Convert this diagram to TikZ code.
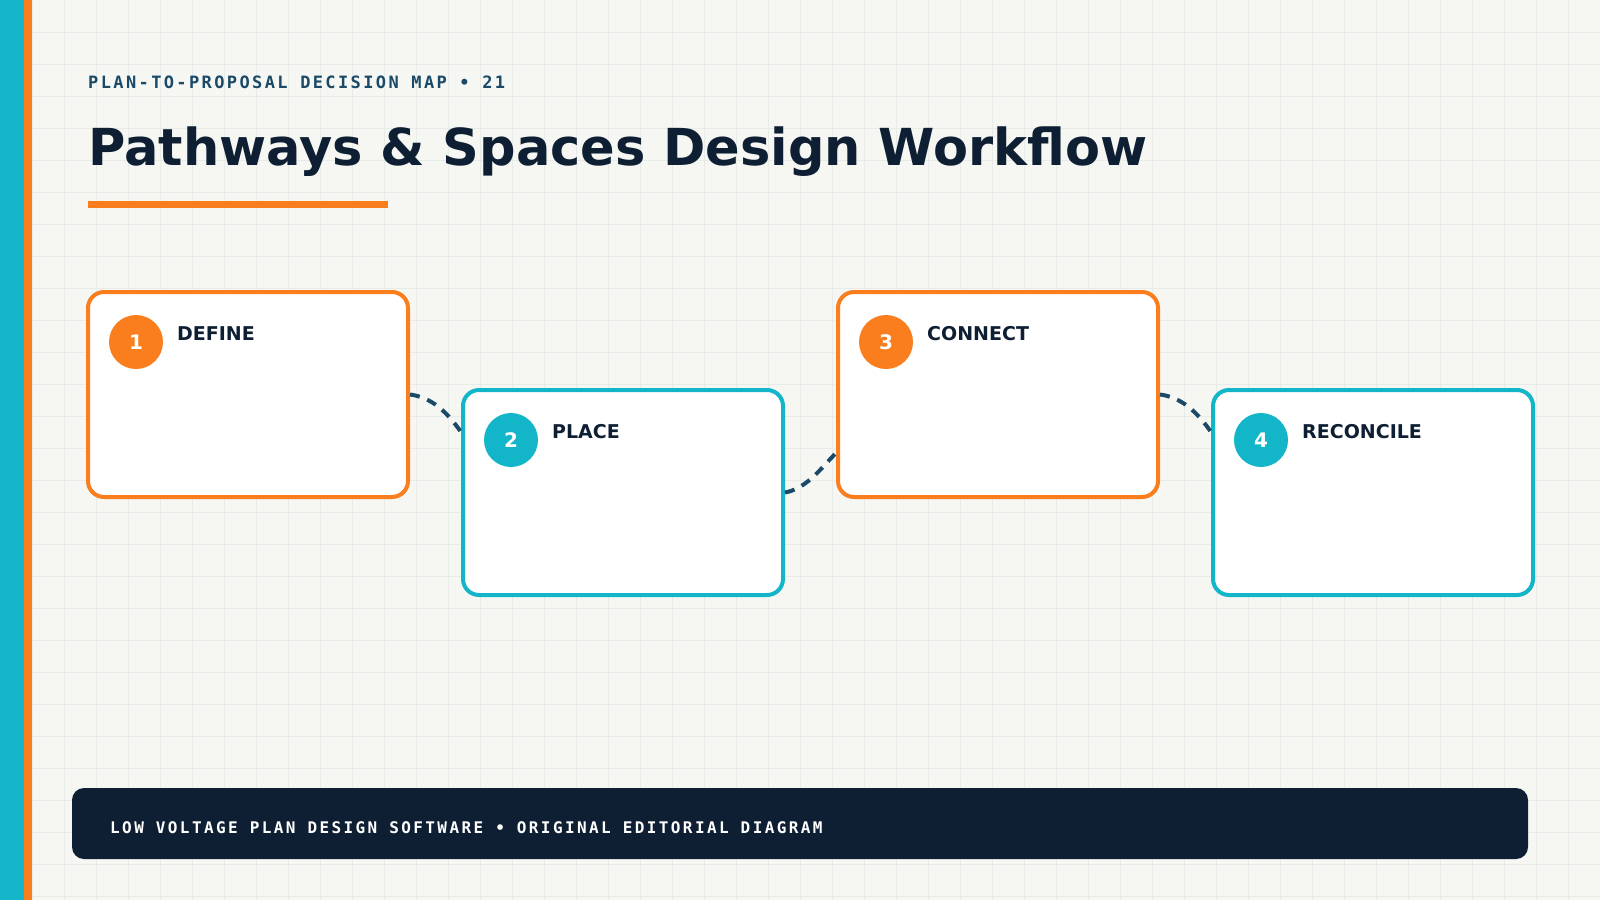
\documentclass[tikz,border=0pt]{standalone}
\usepackage{fontspec}
\setmainfont{DejaVu Sans}
\newfontfamily\capsmono[LetterSpace=14]{DejaVu Sans Mono}
\newfontfamily\footmono[LetterSpace=15]{DejaVu Sans Mono}
\usetikzlibrary{positioning}

\definecolor{navy}{HTML}{0E1F33}
\definecolor{accent}{HTML}{FA7D1E}
\definecolor{tealc}{HTML}{13B6C8}
\definecolor{ink}{HTML}{1A4A68}
\definecolor{paper}{HTML}{F6F7F3}
\definecolor{gridc}{HTML}{E7ECE8}

\tikzset{
  stage/.style={rectangle,draw,line width=4pt,rounded corners=16pt,fill=white,
    minimum width=320pt,minimum height=205pt,inner sep=0pt},
  badge/.style={circle,minimum size=54pt,inner sep=0pt,text=white,
    font=\bfseries\fontsize{20}{24}\selectfont},
  stagename/.style={anchor=base west,inner sep=0pt,text=navy,
    font=\bfseries\fontsize{19}{22}\selectfont},
  link/.style={draw=ink,line width=4pt,dash pattern=on 10pt off 8pt}
}

\begin{document}
\begin{tikzpicture}[x=1pt,y=-1pt]

        \useasboundingbox (0,0) rectangle (1600,900);
        \fill[paper] (0,0) rectangle (1600,900);
        \foreach \x in {32,64,...,1568} \draw[gridc,line width=1pt] (\x,0) -- (\x,900);
        \foreach \y in {32,64,...,896} \draw[gridc,line width=1pt] (0,\y) -- (1600,\y);
        \fill[tealc] (0,0) rectangle (24,900);
        \fill[accent] (24,0) rectangle (32,900);

        % heading
        \node[anchor=base west,inner sep=0pt,text=ink] (kicker) at (88,88)
          {\capsmono\bfseries\fontsize{17}{20}\selectfont PLAN-TO-PROPOSAL DECISION MAP • 21};
        \node[anchor=base west,inner sep=0pt,text=navy] (title) at (88,165)
          {\bfseries\fontsize{51}{60}\selectfont Pathways \& Spaces Design Workflow};
        \fill[accent] (88,201) rectangle (388,208);

        \begin{scope}[every node/.style={stage}]
          \node[draw=accent] (1) at (248,394.5)  {};
          \node[draw=tealc]  (2) at (623,492.5)  {};
          \node[draw=accent] (3) at (998,394.5)  {};
          \node[draw=tealc]  (4) at (1373,492.5) {};
        \end{scope}

        \node[badge,fill=accent] (n1) at ([shift={(50,52)}]1.north west) {1};
        \node[badge,fill=tealc]  (n2) at ([shift={(50,52)}]2.north west) {2};
        \node[badge,fill=accent] (n3) at ([shift={(50,52)}]3.north west) {3};
        \node[badge,fill=tealc]  (n4) at ([shift={(50,52)}]4.north west) {4};

        \node[stagename] (t1) at ([shift={(91,50)}]1.north west) {DEFINE};
        \node[stagename] (t2) at ([shift={(91,50)}]2.north west) {PLACE};
        \node[stagename] (t3) at ([shift={(91,50)}]3.north west) {CONNECT};
        \node[stagename] (t4) at ([shift={(91,50)}]4.north west) {RECONCILE};

        \draw[link] (1.east) .. controls +(22,3) and +(-14,-20) .. ([shift={(0,44)}]2.north west);
        \draw[link] (2.east) .. controls +(22,-4) and +(-14,14) .. ([shift={(0,163)}]3.north west);
        \draw[link] (3.east) .. controls +(22,3) and +(-14,-20) .. ([shift={(0,44)}]4.north west);

        % footer
        \fill[navy,rounded corners=12pt] (72,788) rectangle (1528,859);
        \node[anchor=base west,inner sep=0pt,text=white] (note) at (110,833)
          {\footmono\bfseries\fontsize{16}{19}\selectfont LOW VOLTAGE PLAN DESIGN SOFTWARE • ORIGINAL EDITORIAL DIAGRAM};

      \end{tikzpicture}
\end{document}
